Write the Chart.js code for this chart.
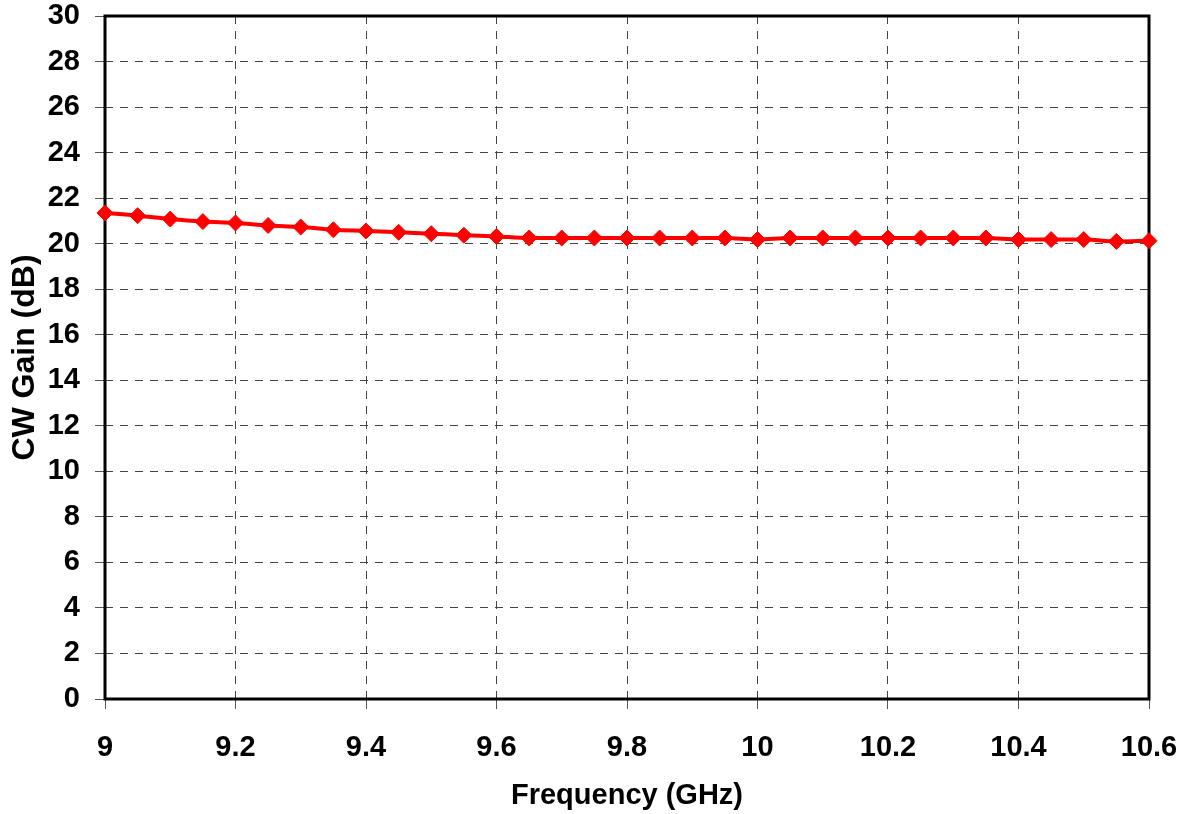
<!DOCTYPE html>
<html>
<head>
<meta charset="utf-8">
<script src="https://cdn.jsdelivr.net/npm/chart.js@4.4.1/dist/chart.umd.min.js"></script>
<style>
  html, body { margin: 0; padding: 0; background: #fff; }
  #wrap { width: 1194px; height: 814px; }
</style>
</head>
<body>
<div id="wrap"><canvas id="gainChart" width="1194" height="814"></canvas></div>
<script>
// ── data ──
const freqGHz = [9.00, 9.05, 9.10, 9.15, 9.20, 9.25, 9.30, 9.35, 9.40, 9.45, 9.50,
                 9.55, 9.60, 9.65, 9.70, 9.75, 9.80, 9.85, 9.90, 9.95, 10.00,
                 10.05, 10.10, 10.15, 10.20, 10.25, 10.30, 10.35, 10.40, 10.45,
                 10.50, 10.55, 10.60];
const cwGain = [21.35, 21.23, 21.08, 20.97, 20.91, 20.80, 20.73, 20.61, 20.56, 20.50, 20.44,
                20.37, 20.32, 20.25, 20.25, 20.25, 20.25, 20.25, 20.25, 20.25, 20.18,
                20.25, 20.25, 20.25, 20.25, 20.25, 20.25, 20.25, 20.18, 20.18,
                20.18, 20.10, 20.13];
const xTicks = [9, 9.2, 9.4, 9.6, 9.8, 10, 10.2, 10.4, 10.6];
const yTicks = [0, 2, 4, 6, 8, 10, 12, 14, 16, 18, 20, 22, 24, 26, 28, 30];

const FONT = 'Liberation Sans, Arial, sans-serif';

// frame around the plot area (drawn under the markers)
const plotFrame = {
  id: 'plotFrame',
  beforeDatasetsDraw(chart) {
    const { ctx, chartArea: a } = chart;
    ctx.save();
    ctx.strokeStyle = '#000';
    ctx.lineWidth = 3;
    ctx.strokeRect(a.left, a.top, a.right - a.left, a.bottom - a.top);
    ctx.restore();
  }
};

const gridStyle = {
  color: '#444',
  lineWidth: 1,
  tickLength: 10,
  tickColor: '#555',
  tickWidth: 1
};

new Chart(document.getElementById('gainChart').getContext('2d'), {
  type: 'line',
  data: {
    datasets: [{
      label: 'CW Gain',
      data: freqGHz.map((f, i) => ({ x: f, y: cwGain[i] })),
      borderColor: '#ff0000',
      backgroundColor: '#ff0000',
      borderWidth: 4,
      cubicInterpolationMode: 'monotone',
      pointStyle: 'rectRot',
      pointRadius: 8,
      pointBorderWidth: 1,
      pointBackgroundColor: '#ff0000',
      pointBorderColor: '#ff0000',
      clip: false
    }]
  },
  options: {
    responsive: false,
    animation: false,
    events: [],
    layout: { padding: { top: 16, right: 45, left: 0, bottom: 0 } },
    plugins: { legend: { display: false }, tooltip: { enabled: false } },
    scales: {
      x: {
        type: 'linear',
        min: 9,
        max: 10.6,
        afterBuildTicks: s => { s.ticks = xTicks.map(v => ({ value: v })); },
        afterFit: s => { s.height = 115; s.paddingLeft = 0; s.paddingRight = 0; },
        grid: gridStyle,
        border: { display: false, dash: [8, 7] },
        ticks: {
          color: '#000',
          padding: 22,
          maxRotation: 0,
          font: { family: FONT, size: 29, weight: 'bold' },
          callback: v => String(Math.round(v * 10) / 10)
        },
        title: {
          display: true,
          text: 'Frequency (GHz)',
          color: '#000',
          padding: { top: 0, bottom: 1 },
          font: { family: FONT, size: 29, weight: 'bold' }
        }
      },
      y: {
        min: 0,
        max: 30,
        afterBuildTicks: s => { s.ticks = yTicks.map(v => ({ value: v })); },
        afterFit: s => { s.width = 105; s.paddingTop = 0; s.paddingBottom = 0; },
        grid: gridStyle,
        border: { display: false, dash: [8, 7] },
        ticks: {
          color: '#000',
          padding: 15,
          font: { family: FONT, size: 29, weight: 'bold' }
        },
        title: {
          display: true,
          text: 'CW Gain (dB)',
          color: '#000',
          padding: { top: 6, bottom: 0 },
          font: { family: FONT, size: 32, weight: 'bold' }
        }
      }
    }
  },
  plugins: [plotFrame]
});
</script>
</body>
</html>
